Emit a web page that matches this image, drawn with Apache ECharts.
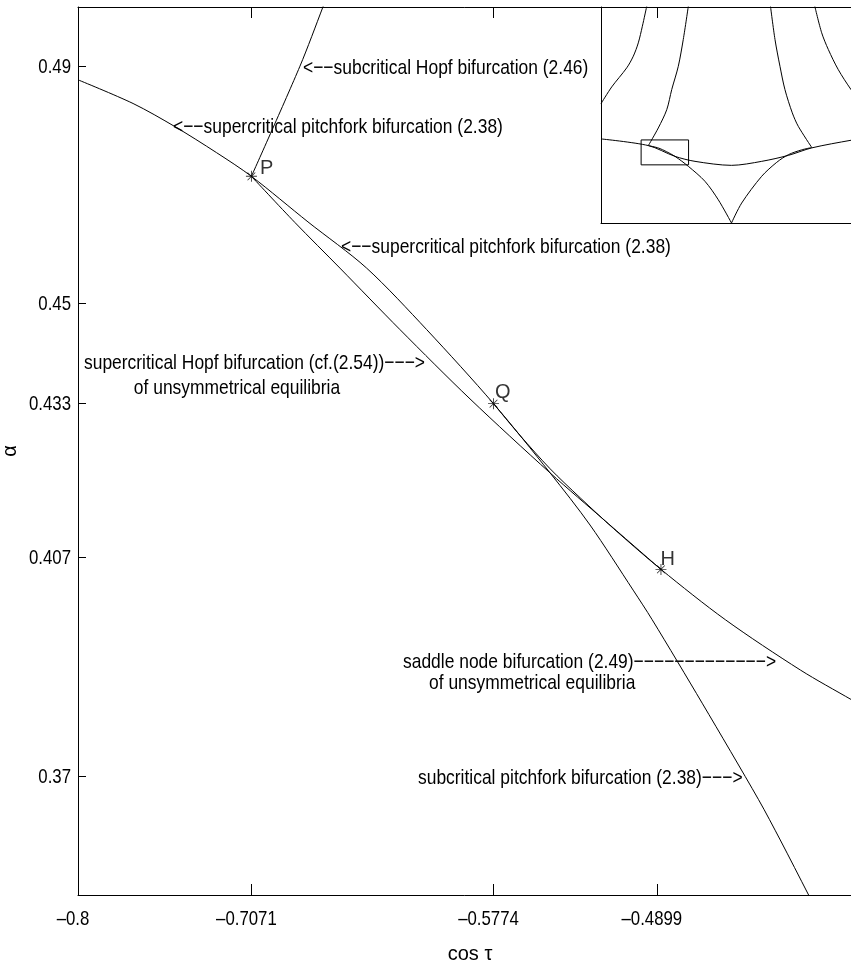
<!DOCTYPE html>
<html>
<head>
<meta charset="utf-8">
<script src="https://cdn.jsdelivr.net/npm/echarts@6/dist/echarts.min.js"></script>
<style>
html, body { margin: 0; padding: 0; background: #fff; }
#main { width: 851px; height: 963px; }
</style>
</head>
<body>
<div id="main"></div>
<script>
var FONT = "'Liberation Sans', Arial, sans-serif";
// the original lettering is tall and narrow
var NOTE_SCALE = 0.83;
var TICK_SCALE = 0.80;

// axis ranges and ticks
var xRange = [-0.8, -0.38];
var yRange = [0.35, 0.5];
var xTicks = [-0.8, -0.7071, -0.5774, -0.4899];
var xTickLabels = ['\u20130.8', '\u20130.7071', '\u20130.5774', '\u20130.4899'];
var yTicks = [0.37, 0.407, 0.433, 0.45, 0.49];
var yTickLabels = ['0.37', '0.407', '0.433', '0.45', '0.49'];

// main curves [cos tau, alpha]
var pitchfork = [[-0.8000, 0.4877], [-0.7705, 0.4837], [-0.7481, 0.4798], [-0.7258, 0.4754], [-0.7071, 0.4714],
    [-0.6768, 0.4637], [-0.6454, 0.4559], [-0.6132, 0.4455], [-0.5774, 0.4330], [-0.5471, 0.4213],
    [-0.5257, 0.4125], [-0.5026, 0.4015], [-0.4924, 0.3965], [-0.4656, 0.3824], [-0.4354, 0.3661],
    [-0.4238, 0.3593], [-0.4086, 0.3500], [-0.4006, 0.3451]];
var hopfUnsym = [[-0.7071, 0.4714], [-0.6838, 0.4636], [-0.6597, 0.4559], [-0.6275, 0.4455], [-0.5900, 0.4338],
    [-0.5471, 0.4213], [-0.5176, 0.4132], [-0.4877, 0.4050]];
var saddleNode = [[-0.5774, 0.4330], [-0.5634, 0.4277], [-0.5471, 0.4220], [-0.5310, 0.4171], [-0.5131, 0.4119],
    [-0.4877, 0.4050], [-0.4532, 0.3965], [-0.4130, 0.3880], [-0.3857, 0.3830], [-0.3800, 0.3820]];
var hopfSub = [[-0.7071, 0.4714], [-0.6811, 0.4900], [-0.6688, 0.5000], [-0.6675, 0.5012]];
var pointNames = ['P', 'Q', 'H'];
var pointX = [-0.7071, -0.5774, -0.4877];
var pointY = [0.4714, 0.4330, 0.4050];

// inset (whole picture)
var insetXRange = [-1.155, 1.155];
var insetYRange = [0, 1.3];
var insetFlat = [[-1.155, 0.506], [-0.736, 0.466], [-0.500, 0.401], [-0.323, 0.371], [0, 0.347], [0.267, 0.371],
    [0.503, 0.407], [0.710, 0.452], [1.058, 0.498], [1.155, 0.506]];
var insetVLeft = [[-0.736, 0.466], [-0.645, 0.451], [-0.577, 0.430], [-0.500, 0.401], [-0.382, 0.341],
    [-0.235, 0.251], [-0.117, 0.140], [0, 0]];
var insetVRight = [[0, 0], [0.090, 0.120], [0.267, 0.281], [0.400, 0.365], [0.503, 0.411], [0.620, 0.440], [0.710, 0.454]];
var insetA = [[-1.155, 0.718], [-1.060, 0.819], [-0.927, 0.934], [-0.869, 1.004], [-0.825, 1.084], [-0.789, 1.184], [-0.750, 1.305]];
var insetB = [[-0.736, 0.466], [-0.648, 0.572], [-0.573, 0.682], [-0.529, 0.803], [-0.471, 0.943], [-0.427, 1.104], [-0.382, 1.305]];
var insetC = [[0.345, 1.305], [0.385, 1.104], [0.429, 0.943], [0.473, 0.803], [0.538, 0.663], [0.591, 0.582], [0.710, 0.455]];
var insetD = [[0.737, 1.305], [0.798, 1.145], [0.857, 1.044], [0.945, 0.923], [1.058, 0.803], [1.155, 0.718]];

// dashes of the arrows
function dashes(n) {
    var s = '';
    for(var d = 0; d < n; d++) {
        s += '\u2212';
    }
    return s;
}

var annotations = [
    {text: '<' + dashes(2) + 'subcritical Hopf bifurcation (2.46)', x: 303, y: 68, align: 'left'},
    {text: '<' + dashes(2) + 'supercritical pitchfork bifurcation (2.38)', x: 173, y: 127, align: 'left'},
    {text: '<' + dashes(2) + 'supercritical pitchfork bifurcation (2.38)', x: 341, y: 247, align: 'left'},
    {text: 'supercritical Hopf bifurcation (cf.(2.54))' + dashes(3) + '>', x: 425, y: 363, align: 'right'},
    {text: 'of unsymmetrical equilibria', x: 237, y: 388, align: 'center'},
    {text: 'saddle node bifurcation (2.49)' + dashes(13) + '>', x: 403, y: 662, align: 'left'},
    {text: 'of unsymmetrical equilibria', x: 429, y: 683, align: 'left'},
    {text: 'subcritical pitchfork bifurcation (2.38)' + dashes(3) + '>', x: 418, y: 778, align: 'left'}
];

var STAR = 'path://M9.2,0L10.8,0L10.8,20L9.2,20Z M0,9.2L20,9.2L20,10.8L0,10.8Z ' +
    'M2.4,3.5L3.5,2.4L17.6,16.5L16.5,17.6Z M16.5,2.4L17.6,3.5L3.5,17.6L2.4,16.5Z';
var labelOffsets = [[-1, -8], [-8, -11], [-10, -10]];

function curve(data, xi, yi) {
    return {
        type: 'line',
        xAxisIndex: xi,
        yAxisIndex: yi,
        data: data,
        symbol: 'none',
        smooth: 0.3,
        clip: true,
        lineStyle: {color: '#000', width: 1},
        silent: true
    };
}

function narrowText(text, x, y, align, scale) {
    return {
        type: 'text',
        x: x,
        y: y,
        z: 100,
        scaleX: scale,
        silent: true,
        style: {
            text: text,
            fill: '#000',
            fontSize: 21,
            fontFamily: FONT,
            align: align,
            verticalAlign: 'middle'
        }
    };
}

var chart = echarts.init(document.getElementById('main'), null, {renderer: 'canvas'});

var pointData = [];
for(var i = 0; i < pointNames.length; i++) {
    pointData.push({
        name: pointNames[i],
        value: [pointX[i], pointY[i]],
        label: {offset: labelOffsets[i]}
    });
}

var rect = [[xRange[0], yRange[0]], [xRange[1], yRange[0]], [xRange[1], yRange[1]],
    [xRange[0], yRange[1]], [xRange[0], yRange[0]]];

var axisLineStyle = {color: '#000', width: 1};

chart.setOption({
    animation: false,
    backgroundColor: '#fff',
    grid: [
        {left: 78, top: 7, right: -11, bottom: 68, outerBoundsMode: 'none', containLabel: false},
        {left: 601, top: 7, right: -11, bottom: 740, outerBoundsMode: 'none', containLabel: false}
    ],
    xAxis: [{
        gridIndex: 0,
        type: 'value',
        min: xRange[0],
        max: xRange[1],
        position: 'bottom',
        axisLine: {show: true, onZero: false, lineStyle: axisLineStyle},
        axisTick: {show: true, inside: true, length: 11, customValues: xTicks, lineStyle: axisLineStyle},
        axisLabel: {show: false},
        splitLine: {show: false},
        name: 'cos \u03c4',
        nameLocation: 'middle',
        nameGap: 49,
        nameTextStyle: {color: '#000', fontSize: 20, fontFamily: FONT}
    }, {
        gridIndex: 0,
        type: 'value',
        min: xRange[0],
        max: xRange[1],
        position: 'top',
        axisLine: {show: true, onZero: false, lineStyle: axisLineStyle},
        axisTick: {show: true, inside: true, length: 11, customValues: xTicks, lineStyle: axisLineStyle},
        axisLabel: {show: false},
        splitLine: {show: false}
    }, {
        gridIndex: 1,
        type: 'value',
        min: insetXRange[0],
        max: insetXRange[1],
        position: 'bottom',
        axisLine: {show: true, onZero: false, lineStyle: axisLineStyle},
        axisTick: {show: false},
        axisLabel: {show: false},
        splitLine: {show: false}
    }],
    yAxis: [{
        gridIndex: 0,
        type: 'value',
        min: yRange[0],
        max: yRange[1],
        position: 'left',
        axisLine: {show: true, onZero: false, lineStyle: axisLineStyle},
        axisTick: {show: true, inside: true, length: 8, customValues: yTicks, lineStyle: axisLineStyle},
        axisLabel: {show: false},
        splitLine: {show: false},
        name: '\u03b1',
        nameLocation: 'middle',
        nameGap: 58,
        nameRotate: 90,
        nameTextStyle: {color: '#000', fontSize: 20, fontFamily: FONT}
    }, {
        gridIndex: 1,
        type: 'value',
        min: insetYRange[0],
        max: insetYRange[1],
        position: 'left',
        axisLine: {show: true, onZero: false, lineStyle: axisLineStyle},
        axisTick: {show: false},
        axisLabel: {show: false},
        splitLine: {show: false}
    }],
    series: [
        curve(pitchfork, 0, 0),
        curve(hopfUnsym, 0, 0),
        curve(saddleNode, 0, 0),
        curve(hopfSub, 0, 0),
        {
            type: 'scatter',
            xAxisIndex: 0,
            yAxisIndex: 0,
            symbol: STAR,
            symbolSize: 11,
            itemStyle: {color: '#000'},
            data: pointData,
            label: {
                show: true,
                position: 'right',
                distance: 4,
                formatter: '{b}',
                color: '#000',
                fontSize: 20,
                fontFamily: FONT
            },
            silent: true
        },
        curve(insetFlat, 2, 1),
        curve(insetVLeft, 2, 1),
        curve(insetVRight, 2, 1),
        curve(insetA, 2, 1),
        curve(insetB, 2, 1),
        curve(insetC, 2, 1),
        curve(insetD, 2, 1),
        {
            type: 'line',
            xAxisIndex: 2,
            yAxisIndex: 1,
            data: rect,
            symbol: 'none',
            lineStyle: {color: '#000', width: 1},
            silent: true
        }
    ]
});

// tick labels and notes, placed through the axes' own scale
var graphics = [];
var xLabelY = chart.convertToPixel({yAxisIndex: 0}, yRange[0]) + 24;
for(var k = 0; k < xTicks.length; k++) {
    var px = chart.convertToPixel({xAxisIndex: 0}, xTicks[k]);
    graphics.push(narrowText(xTickLabels[k], px - 5, xLabelY, 'center', TICK_SCALE));
}
var yLabelX = chart.convertToPixel({xAxisIndex: 0}, xRange[0]) - 7;
for(var m = 0; m < yTicks.length; m++) {
    var py = chart.convertToPixel({yAxisIndex: 0}, yTicks[m]);
    graphics.push(narrowText(yTickLabels[m], yLabelX, py + 1, 'right', TICK_SCALE));
}
for(var j = 0; j < annotations.length; j++) {
    var a = annotations[j];
    graphics.push(narrowText(a.text, a.x, a.y, a.align, NOTE_SCALE));
}
chart.setOption({graphic: graphics});
</script>
</body>
</html>
